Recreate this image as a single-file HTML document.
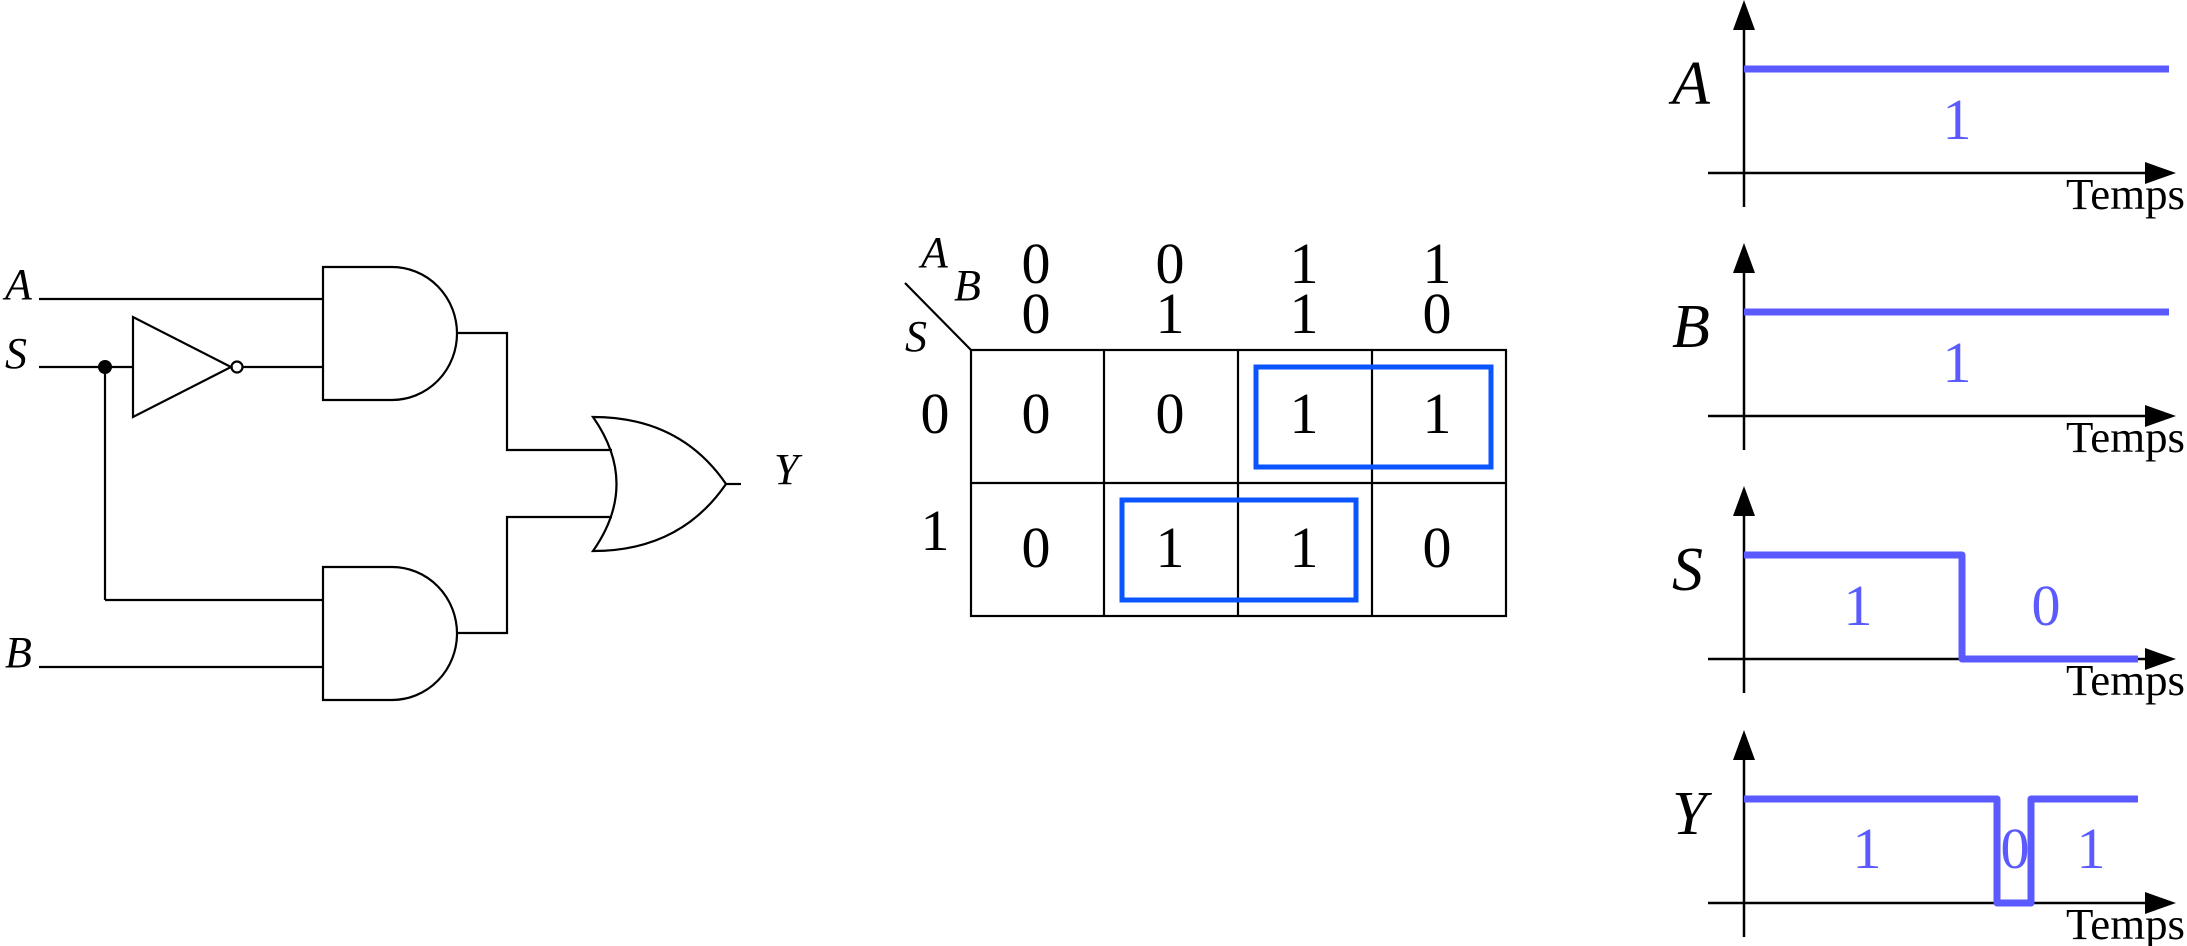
<!DOCTYPE html>
<html><head><meta charset="utf-8"><style>
html,body{margin:0;padding:0;background:#fff;}
svg{display:block;}
text{font-family:"Liberation Serif","DejaVu Serif",serif;}
.it{font-style:italic;}
</style></head><body>
<svg width="2187" height="946" viewBox="0 0 2187 946" xmlns="http://www.w3.org/2000/svg">
<defs>
<g id="axes">
<line x1="1744" y1="28" x2="1744" y2="207" stroke="#000" stroke-width="2.5"/>
<polygon points="1744,0 1733,30 1755,30" fill="#000"/>
<line x1="1708" y1="173" x2="2148" y2="173" stroke="#000" stroke-width="2.5"/>
<polygon points="2176,173 2145,162 2145,184" fill="#000"/>
<text x="2066" y="209" font-size="44" textLength="119" lengthAdjust="spacingAndGlyphs">Temps</text>
</g>
</defs>
<g fill="none" stroke="#000" stroke-width="2.2">
<line x1="39" y1="299" x2="323" y2="299"/>
<line x1="39" y1="367" x2="133" y2="367"/>
<line x1="242" y1="367" x2="323" y2="367"/>
<line x1="105" y1="367" x2="105" y2="600"/>
<line x1="105" y1="600" x2="323" y2="600"/>
<line x1="39" y1="667" x2="323" y2="667"/>
<polygon points="133,317 133,417 231,367"/>
<circle cx="237" cy="367" r="5.5"/>
<path d="M323,267 H392 A65,66.5 0 0 1 392,400 H323 Z"/>
<path d="M323,567 H392 A65,66.5 0 0 1 392,700 H323 Z"/>
<polyline points="457,333 507,333 507,450 612,450"/>
<polyline points="457,633 507,633 507,517 612,517"/>
<path d="M593,417 Q640,484 593,551 Q680,551 726,484 Q680,417 593,417 Z"/>
<line x1="726" y1="484" x2="741" y2="484"/>
</g>
<circle cx="105" cy="367" r="7" fill="#000"/>
<g font-size="44">
<text x="5" y="299" class="it">A</text>
<text x="5" y="368" class="it">S</text>
<text x="5" y="667" class="it">B</text>
<text x="774" y="484" class="it">Y</text>
</g>
<g fill="none" stroke="#000" stroke-width="2.2">
<rect x="971" y="350" width="535" height="266"/>
<line x1="1104" y1="350" x2="1104" y2="616"/>
<line x1="1238" y1="350" x2="1238" y2="616"/>
<line x1="1372" y1="350" x2="1372" y2="616"/>
<line x1="971" y1="483" x2="1506" y2="483"/>
<line x1="905" y1="283" x2="971" y2="350"/>
</g>
<g fill="none" stroke="#0a55ff" stroke-width="5">
<rect x="1256" y="367" width="235" height="100"/>
<rect x="1122" y="500" width="234" height="100"/>
</g>
<g font-size="44">
<text x="921" y="267" class="it">A</text>
<text x="954" y="300" class="it">B</text>
<text x="905" y="351" class="it">S</text>
</g>
<g font-size="58" text-anchor="middle">
<text x="1036" y="283">0</text><text x="1170" y="283">0</text><text x="1304" y="283">1</text><text x="1437" y="283">1</text>
<text x="1036" y="333">0</text><text x="1170" y="333">1</text><text x="1304" y="333">1</text><text x="1437" y="333">0</text>
<text x="935" y="433">0</text><text x="935" y="550">1</text>
<text x="1036" y="433">0</text><text x="1170" y="433">0</text><text x="1304" y="433">1</text><text x="1437" y="433">1</text>
<text x="1036" y="567">0</text><text x="1170" y="567">1</text><text x="1304" y="567">1</text><text x="1437" y="567">0</text>
</g>
<use href="#axes"/>
<use href="#axes" y="243"/>
<use href="#axes" y="486"/>
<use href="#axes" y="730"/>
<g font-size="62" class="it">
<text x="1672" y="104">A</text>
<text x="1672" y="347">B</text>
<text x="1672" y="590">S</text>
<text x="1672" y="834">Y</text>
</g>
<g fill="none" stroke="#5a5aff" stroke-width="7" stroke-linejoin="round">
<line x1="1744" y1="69" x2="2169" y2="69"/>
<line x1="1744" y1="312" x2="2169" y2="312"/>
<polyline points="1744,555 1962,555 1962,659 2138,659"/>
<polyline points="1744,799 1997,799 1997,903 2031,903 2031,799 2138,799"/>
</g>
<g font-size="58" fill="#5a5aff" text-anchor="middle">
<text x="1957" y="139">1</text>
<text x="1957" y="382">1</text>
<text x="1858" y="625">1</text>
<text x="2046" y="625">0</text>
<text x="1867" y="868">1</text>
<text x="2015" y="868">0</text>
<text x="2091" y="868">1</text>
</g>
</svg>
</body></html>
